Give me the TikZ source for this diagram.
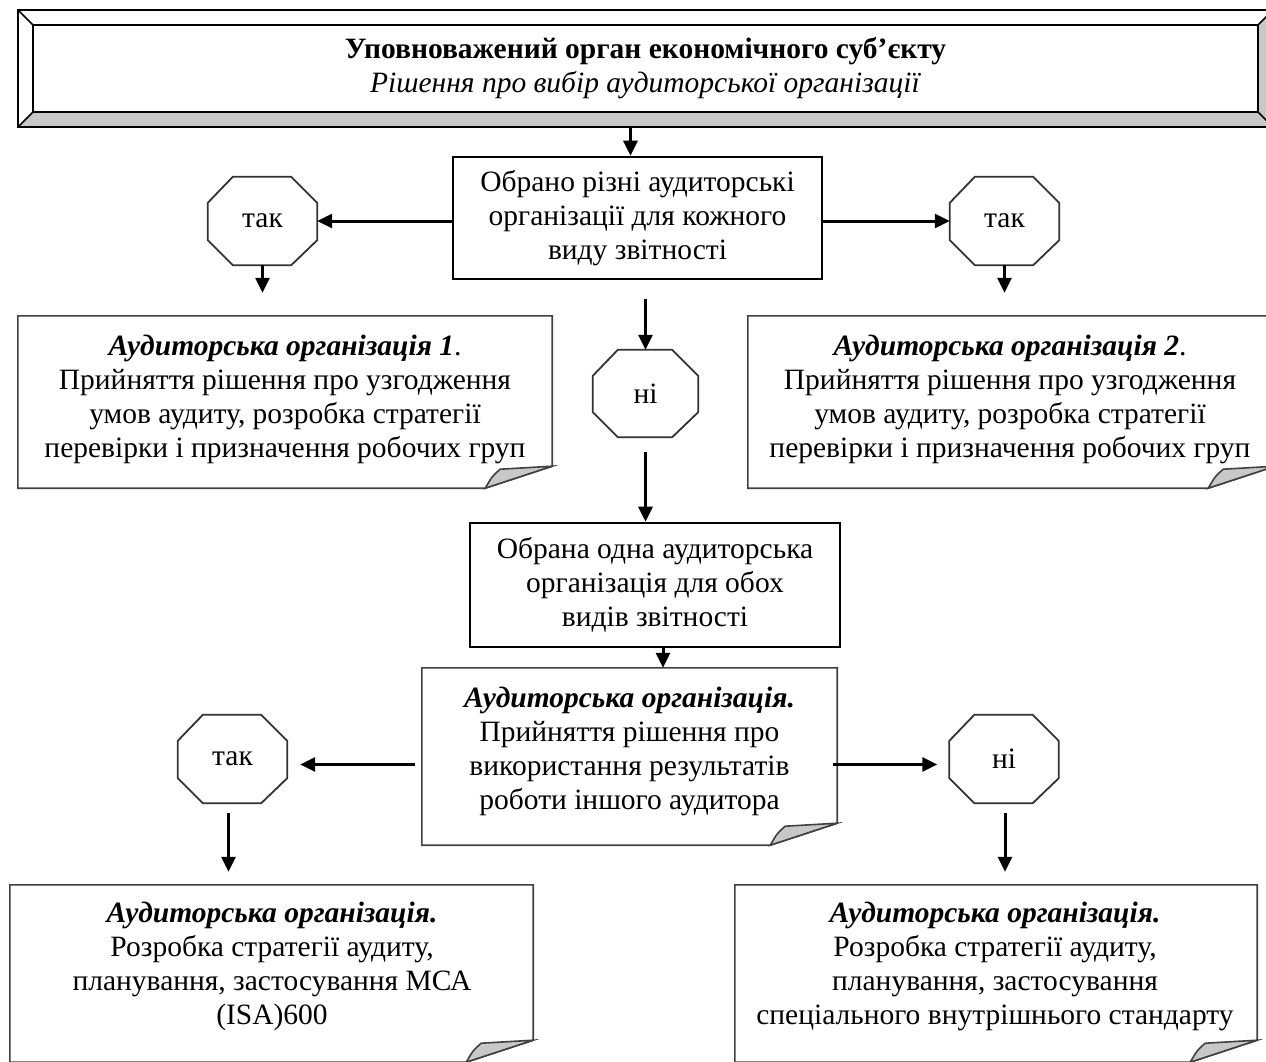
\documentclass[tikz,border=0pt]{standalone}
\usepackage{fontspec}
\setmainfont{Liberation Serif}
\usetikzlibrary{arrows.meta,calc}
\definecolor{flapgray}{HTML}{C8C8C8}
\newcommand\txtfont{\fontsize{29.5}{34}\selectfont}
\tikzset{
  box/.style={draw=black,line width=2.6pt,align=center,inner sep=0pt,font=\txtfont},
  blank/.style={draw=none,align=center,inner sep=0pt,font=\txtfont},
  arr/.style={line width=3pt,-{Triangle[length=15pt,width=14pt]}},
  notel/.style={draw=black!75,line width=1.6pt},
  octl/.style={draw=black!80,line width=1.8pt,fill=white},
}
\newcommand\foldnote[1]{%
  \draw[notel] (#1.north west) -- (#1.north east) -- ($(#1.south east)+(0,-22)$)
     -- ($(#1.south east)+(-67,0)$) -- (#1.south west) -- cycle;
  \filldraw[notel,fill=flapgray] ($(#1.south east)+(-67,0)$)
     .. controls ($(#1.south east)+(-60,-12)$) .. ($(#1.south east)+(-52,-19)$)
     -- ($(#1.south east)+(0,-22)$) -- cycle;}
\newcommand\octo[1]{%
  \draw[octl] ($(#1.north west)+(25,0)$) -- ($(#1.north east)+(-26,0)$)
    -- ($(#1.north east)+(0,26)$) -- ($(#1.south east)+(0,-25)$)
    -- ($(#1.south east)+(-26,0)$) -- ($(#1.south west)+(25,0)$)
    -- ($(#1.south west)+(0,-25)$) -- ($(#1.north west)+(0,26)$) -- cycle;}
\begin{document}
\begin{tikzpicture}[x=1pt,y=-1pt]
\useasboundingbox (0,0) rectangle (1266,1061);
\clip (0,0) rectangle (1266,1061);
% banner frame
\fill[white] (18,10) rectangle (1273,127);
\fill[flapgray] (18,127) -- (1273,127) -- (1258,112) -- (33,112) -- cycle;
\fill[flapgray] (1273,10) -- (1273,127) -- (1258,112) -- (1258,25) -- cycle;
\node[blank,minimum width=1225pt,minimum height=87pt] (top) at (645.5,68.5)
  {\textbf{Уповноважений орган економічного суб’єкту}\\
   \textit{Рішення про вибір аудиторської організації}};
\draw[line width=1.5pt] (18,10) rectangle (1273,127);
\draw[line width=1.5pt] (top.north west) rectangle (top.south east);
\draw[line width=1.5pt] (18,10) -- (top.north west) (1273,10) -- (top.north east)
  (18,127) -- (top.south west) (1273,127) -- (top.south east);

% first decision
\node[box,minimum width=369pt,minimum height=122pt] (box1) at (637.5,218)
  {Обрано різні аудиторські\\організації для кожного\\виду звітності};
\node[blank,minimum width=109pt,minimum height=88pt] (octL1) at (262.5,221) {};
\octo{octL1}\node[blank] at (octL1.center) {так};
\node[blank,minimum width=109pt,minimum height=88pt] (octR1) at (1004.5,221) {};
\octo{octR1}\node[blank] at (octR1.center) {так};
\node[blank,minimum width=105pt,minimum height=87pt] (octM) at (645.5,393.5) {};
\octo{octM}\node[blank] at (octM.center) {ні};

\node[blank,minimum width=534pt,minimum height=172pt] (note1) at (285,402) {};
\foldnote{note1}
\node[blank] at ($(note1.center)+(0,-3)$)
  {\textbf{\textit{Аудиторська організація 1}}.\\Прийняття рішення про узгодження\\умов аудиту, розробка стратегії\\перевірки і призначення робочих груп};
\node[blank,minimum width=527pt,minimum height=172pt] (note2) at (1011.5,402) {};
\foldnote{note2}
\node[blank] at (1010,399)
  {\textbf{\textit{Аудиторська організація 2}}.\\Прийняття рішення про узгодження\\умов аудиту, розробка стратегії\\перевірки і призначення робочих груп};

\node[box,minimum width=370pt,minimum height=124pt] (box2) at (655,585)
  {Обрана одна аудиторська\\організація для обох\\видів звітності};

\node[blank,minimum width=415pt,minimum height=177pt] (note3) at (629.5,756.5) {};
\foldnote{note3}
\node[blank] at ($(note3.center)+(0,-5)$)
  {\textbf{\textit{Аудиторська організація.}}\\Прийняття рішення про\\використання результатів\\роботи іншого аудитора};

\node[blank,minimum width=109pt,minimum height=88pt] (octL2) at (232.5,759) {};
\octo{octL2}\node[blank] at (octL2.center) {так};
\node[blank,minimum width=109pt,minimum height=88pt] (octR2) at (1004,759) {};
\octo{octR2}\node[blank] at (octR2.center) {ні};

\node[blank,minimum width=523pt,minimum height=177pt] (note4) at (271.5,973.5) {};
\foldnote{note4}
\node[blank] at (272,966)
  {\textbf{\textit{Аудиторська організація.}}\\Розробка стратегії аудиту,\\планування, застосування МСА\\(ISA)600};
\node[blank,minimum width=522pt,minimum height=177pt] (note5) at (996,973.5) {};
\foldnote{note5}
\node[blank] at (995,966)
  {\textbf{\textit{Аудиторська організація.}}\\Розробка стратегії аудиту,\\планування, застосування\\спеціального внутрішнього стандарту};

% connectors
\draw[arr] ($(box1.north |- top.south)+(-7,16)$) -- ($(box1.north)+(-7,0)$);
\draw[arr] (box1.west |- octL1.east) -- (octL1.east);
\draw[arr] (box1.east |- octR1.west) -- (octR1.west);
\draw[arr] (octL1.south) -- ($(octL1.south |- note1.north)+(0,-23)$);
\draw[arr] (octR1.south) -- ($(octR1.south |- note2.north)+(0,-23)$);
\draw[arr] ($(box1.south -| octM.north)+(0,19)$) -- (octM.north);
\draw[arr] ($(octM.south)+(0,15)$) -- (octM.south |- box2.north);
\draw[arr] ($(box2.south)+(8,0)$) -- ($(box2.south |- note3.north)+(8,0)$);
\draw[arr] ($(note3.west)+(-7,8)$) -- ($(note3.west -| octL2.east)+(13,8)$);
\draw[arr] ($(note3.east)+(-4,8)$) -- ($(note3.east -| octR2.west)+(-12,8)$);
\draw[arr] ($(octL2.south)+(-4,10)$) -- ($(octL2.south |- note4.north)+(-4,-13)$);
\draw[arr] ($(octR2.south)+(1,10)$) -- ($(octR2.south |- note5.north)+(1,-13)$);
\end{tikzpicture}
\end{document}
